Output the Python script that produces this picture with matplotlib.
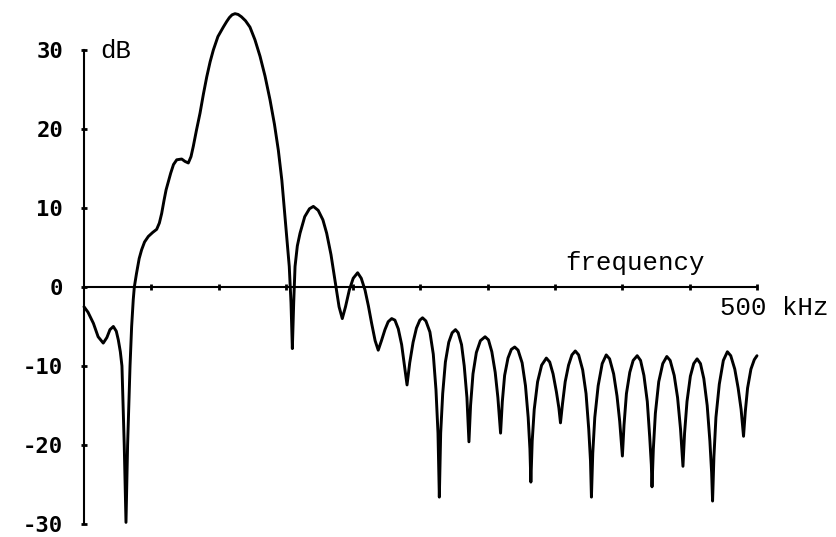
import matplotlib
matplotlib.use("Agg")
import matplotlib.pyplot as plt

# --- data (frequency in kHz, level in dB) ---
freq_khz = [
    0, 3, 7, 10.5, 14.3, 17, 19.3, 21.8, 24, 25.5, 27, 28.2, 29.9, 31.2,
    32.4, 34.2, 35.4, 36.6, 37.4, 39, 41, 42.8, 45, 47.8, 51, 54, 56, 57.7,
    59.5, 61, 64.4, 66.5, 68.9, 72.6, 75, 77.5, 79.5, 81.2, 83.5, 86.2,
    88.7, 91.2, 93.7, 96.1, 99.5, 103.5, 106, 108, 110, 112.2, 114.5, 117,
    120, 123.3, 127, 130.8, 134.5, 138.2, 141.5, 144.4, 147,
    149.3, 152.5, 153.8, 154.8, 155.8, 156.8, 158.5, 160.5, 164, 167.5,
    170.4, 174, 177.5, 180.3, 183.5, 187.2, 189.5, 191.9, 194.3, 197.1,
    200, 203.3, 206, 208.8, 211.3, 213.7, 216.3, 218.6, 221, 223.6, 226,
    228.6, 231, 233.5, 236, 238, 240, 242, 244.5, 247, 249.5, 251.5,
    254, 257, 259.5, 261.5, 263, 264, 265, 266.5, 268.5, 271, 273.5, 276,
    278, 280.5, 282.5, 284.5, 286, 287.2, 289, 291.5, 294.5, 298,
    300.5, 303, 305.5, 307.5, 309.5, 310.8, 312.5, 315, 317.5, 320,
    322.5, 325.5, 328, 330, 331.3, 332, 333, 334.5, 337, 340, 343.5,
    346, 348.5, 351, 352.8, 354, 355.5, 357.5, 360, 362.5, 365,
    367.5, 370.5, 373, 375, 376.3, 377, 378, 379.5, 382, 385, 388,
    390.5, 393.5, 396, 398, 400, 401.2, 403, 405.5, 408, 411,
    413.5, 416, 418.5, 420.3, 421.5, 422, 423, 424.5, 427, 430, 433,
    435.5, 438.5, 441, 443.2, 445, 446.2, 448, 450.5, 453, 455.5,
    458, 460.5, 463, 465, 466.3, 467, 468, 469.5, 472, 475, 478,
    480.5, 483.5, 486, 488.2, 490, 491.3, 493, 495.5, 498, 500,
]
level_db = [
    -2.5, -3.2, -4.6, -6.3, -7.1, -6.4, -5.4, -5.0, -5.6, -6.7, -8.2, -10, -20, -29.8,
    -20, -10, -5, -1.6, 0, 1.7, 3.6, 4.7, 5.7, 6.4, 6.9, 7.3, 8.1, 9.3,
    11, 12.3, 14.4, 15.5, 16.1, 16.2, 15.9, 15.7, 16.5, 17.8, 19.8, 22.0,
    24.4, 26.6, 28.5, 30.0, 31.7, 32.9, 33.6, 34.1, 34.45, 34.6, 34.5, 34.2,
    33.7, 32.9, 31.3, 29.2, 26.7, 23.7, 20.6, 17.3, 13.5,
    8.9, 2.6, -2, -7.8, -2, 2.6, 5.2, 6.8, 8.9, 9.9,
    10.2, 9.7, 8.5, 6.8, 4.1, 0, -2.5, -4.0, -2.5, -0.4,
    1.1, 1.8, 1.1, -0.4, -2.4, -4.6, -6.8, -8.0, -6.8, -5.4, -4.4,
    -4.0, -4.2, -5.3, -7.3, -9.8, -12.4, -9.6, -7.0, -5.2, -4.2, -3.9,
    -4.3, -5.7, -8.5, -13, -18.5, -26.6, -18.5, -13.5, -9.5, -7.0, -5.8, -5.4,
    -5.8, -7.3, -10, -14, -19.6, -15, -11, -8.3, -6.8, -6.3,
    -6.7, -8.2, -10.8, -14, -18.5, -14.5, -11.2, -9.0, -7.9, -7.6,
    -8.0, -9.6, -12.5, -16.5, -20.5, -24.7, -19.5, -15.5, -12, -9.9, -9.0,
    -9.5, -11, -13.3, -15.3, -17.2, -14.8, -12, -9.9, -8.6, -8.1,
    -8.6, -10.5, -13.5, -18, -22, -26.6, -21, -16.5, -12.5, -9.7, -8.6,
    -9.1, -11, -13.8, -17, -21.4, -17.5, -13.5, -10.8, -9.3, -8.7,
    -9.3, -11.2, -14.5, -19, -22.5, -25.3, -20.5, -16, -12, -9.7, -8.8,
    -9.3, -11.2, -14, -18, -22.7, -18.5, -14.5, -11.3, -9.7, -9.1,
    -9.7, -11.6, -15, -19.5, -23.5, -27.1, -21.5, -16.5, -12.3, -9.3, -8.2,
    -8.7, -10.4, -12.8, -15.5, -18.9, -15.8, -12.8, -10.4, -9.2, -8.7,
]
y_ticks = [30, 20, 10, 0, -10, -20, -30]
y_tick_labels = ["30", "20", "10", "0", "-10", "-20", "-30"]
x_ticks = [50, 100, 150, 200, 250, 300, 350, 400, 450, 500]

# --- figure ---
fig = plt.figure(figsize=(8.36, 5.37), dpi=100)
ax = fig.add_axes([0, 0, 1, 1])
ax.set_xlim(-62.4, 558.7)
ax.set_ylim(-31.65, 36.33)

ax.plot(freq_khz, level_db, color="black", lw=2.1,
        solid_joinstyle="round", solid_capstyle="round")

# axes crossing at the origin
for side in ["top", "right"]:
    ax.spines[side].set_visible(False)
ax.spines["left"].set_position(("data", 0))
ax.spines["bottom"].set_position(("data", 0))
ax.spines["left"].set_bounds(-30, 30)
ax.spines["bottom"].set_bounds(0, 500)
ax.spines["left"].set_linewidth(1.5)
ax.spines["bottom"].set_linewidth(1.5)

ax.set_xticks(x_ticks)
ax.set_xticklabels([])
ax.set_yticks(y_ticks)
ax.set_yticklabels(y_tick_labels, fontfamily="DejaVu Sans Mono",
                   fontweight="bold", fontsize=16)
ax.tick_params(axis="both", direction="inout", length=4, width=2)
ax.tick_params(axis="y", pad=13)

txt = dict(fontfamily="Liberation Mono", fontsize=18.5, color="black")
ax.text(11.9, 29.0, "dB", va="baseline", ha="left", **txt)
ax.text(357.4, 2.15, "frequency", va="baseline", ha="left", **txt)
ax.text(472.5, -3.6, "500 kHz", va="baseline", ha="left", **txt)

fig.savefig("out.png", dpi=100)
